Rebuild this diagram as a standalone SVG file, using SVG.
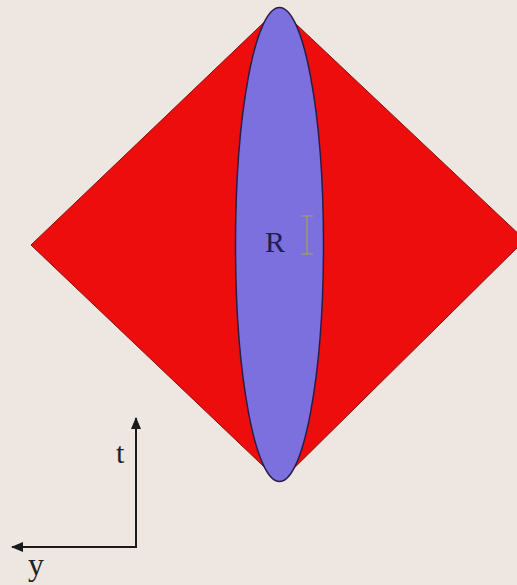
<svg xmlns="http://www.w3.org/2000/svg" width="517" height="585" viewBox="0 0 517 585">
<defs>
<marker id="ah" markerWidth="12" markerHeight="10" refX="11" refY="5" orient="auto" markerUnits="userSpaceOnUse">
<path d="M0,0 L12,5 L0,10 Z" fill="#1a1a1a"/>
</marker>
<filter id="blur" x="-5%" y="-5%" width="110%" height="110%"><feGaussianBlur stdDeviation="0.6"/></filter>
</defs>
<style>
.lbl{font-family:"Liberation Serif","Times New Roman",serif;fill:#222;}
.axis{stroke:#1a1a1a;stroke-width:2;fill:none;}
</style>
<rect width="517" height="585" fill="#EEE6E0"/>
<g id="diamond" filter="url(#blur)">
<polygon points="279,8 525,240 280,482 31,245" fill="#EE0A0A" stroke="#8a1010" stroke-width="1"/>
</g>
<g id="lens" filter="url(#blur)">
<ellipse cx="279.5" cy="244.5" rx="44" ry="237" fill="#7B6FDF" stroke="#2a1f4a" stroke-width="1.5"/>
</g>
<g id="radius">
<text class="lbl" x="265" y="252" font-size="30" fill="#1e1e50" style="fill:#1e1e50">R</text>
<g stroke="#A09478" stroke-width="1.5" fill="none">
<line x1="307" y1="216" x2="307" y2="254"/>
<line x1="301" y1="216" x2="313" y2="216"/>
<line x1="301" y1="254" x2="313" y2="254"/>
</g>
</g>
<g id="connectors">
<line class="axis" x1="136" y1="548" x2="136" y2="418" marker-end="url(#ah)"/>
<line class="axis" x1="137" y1="547" x2="12" y2="547" marker-end="url(#ah)"/>
</g>
<g id="labels">
<text class="lbl" x="116" y="463" font-size="30">t</text>
<text class="lbl" x="28" y="575" font-size="32">y</text>
</g>
</svg>
